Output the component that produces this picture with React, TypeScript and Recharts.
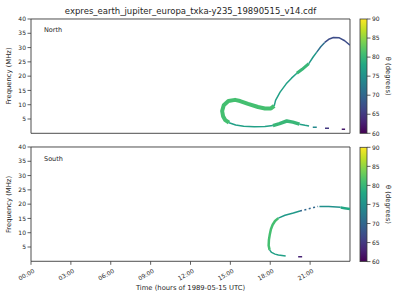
import React from 'react';
import { LineChart, Line, XAxis, YAxis, ReferenceArea } from 'recharts';

// ---------- tick values / labels ----------
const hourTicks = [0, 3, 6, 9, 12, 15, 18, 21];
const hourLabels = ['00:00', '03:00', '06:00', '09:00', '12:00', '15:00', '18:00', '21:00'];
const freqTicks = [5, 10, 15, 20, 25, 30, 35, 40];
const thetaTicks = [60, 65, 70, 75, 80, 85, 90];

// ---------- North hemisphere emission (time [h], frequency [MHz]) ----------
const northLoop = [[18.3, 9.6], [18.05, 8.7], [17.6, 8.7], [17.08, 9.2], [16.33, 10.3], [15.73, 11.3], [15.35, 11.7], [14.85, 11.3], [14.5, 9.8], [14.38, 7.8], [14.45, 6.0], [14.62, 4.6], [14.9, 3.7]];
const northBottom = [[14.9, 3.7], [15.4, 2.9], [16.0, 2.45], [16.8, 2.3], [17.6, 2.35], [18.2, 2.7]];
const northBump = [[18.2, 2.7], [18.7, 3.4], [19.24, 4.3], [19.7, 3.9], [20.2, 3.2]];
const northTail = [[20.2, 3.2], [20.62, 2.8], [20.92, 2.55]];
const northDash1 = [[21.2, 2.1], [21.5, 2.1]];
const northDash2 = [[22.12, 1.75], [22.42, 1.75]];
const northDash3 = [[23.38, 1.4], [23.63, 1.4]];
const northRise1 = [[18.3, 9.6], [18.4, 11.5], [18.74, 14.4], [19.2, 17.3], [19.6, 19.3], [20.0, 21.0]];
const northRise2 = [[20.0, 21.0], [20.4, 22.4], [20.9, 24.4]];
const northRise3 = [[20.9, 24.4], [21.24, 26.8], [21.5, 28.4]];
const northRise4 = [[21.5, 28.4], [21.8, 30.3], [22.1, 31.8]];
const northArc = [[22.1, 31.8], [22.4, 32.9], [22.75, 33.5], [23.2, 33.4], [23.6, 32.4], [24.0, 30.8]];

const northSeries = [northLoop, northBottom, northBump, northTail, northDash1, northDash2, northDash3, northRise1, northRise2, northRise3, northRise4, northArc];
const northTheta = [81, 77, 80, 77, 74, 65, 62, 77, 80, 76, 71, 67];

// ---------- South hemisphere emission ----------
const southDash = [[20.1, 1.6], [20.4, 1.6]];
const southBottom = [[19.16, 1.85], [18.61, 2.2], [18.36, 2.5], [18.1, 3.1], [17.95, 4.0]];
const southVertical = [[17.95, 4.0], [17.88, 5.5], [17.9, 7.5], [17.97, 9.5], [18.05, 11.2], [18.18, 12.8], [18.36, 14.1], [18.61, 15.1]];
const southRise = [[18.61, 15.1], [19.11, 16.1], [19.74, 16.9], [20.24, 17.6]];
const southDotted = [[20.24, 17.6], [20.75, 18.2], [21.25, 18.8], [21.6, 19.2]];
const southFlat = [[21.7, 19.2], [22.4, 19.2], [23.0, 19.0], [23.3, 18.9]];
const southEnd = [[23.3, 18.8], [23.6, 18.6], [24.0, 18.3]];

const southSeries = [southDash, southBottom, southVertical, southRise, southDotted, southFlat, southEnd];
const southTheta = [63, 77, 81, 76, 70, 75, 78];

// ---------- styles (kept apart from data) ----------
const northWidths = [4, 1.5, 3.5, 1.5, 1.5, 1.5, 1.5, 1.5, 3, 1.5, 1.5, 1.5];
const northDashes = ['', '', '', '', '', '', '', '', '', '', '', ''];
const southWidths = [1.5, 1.5, 2.5, 1.5, 1.5, 1.5, 2.5];
const southDashes = ['', '', '', '', '2 2.5', '', ''];

const VIRIDIS = ['#440154', '#482475', '#414487', '#355f8d', '#2a788e', '#21918c', '#22a884', '#44bf70', '#7ad151', '#bddf26', '#fde725'];

function hexToRgb(h: string) {
  return [parseInt(h.slice(1, 3), 16), parseInt(h.slice(3, 5), 16), parseInt(h.slice(5, 7), 16)];
}
function viridis(theta: number) {
  let u = (theta - 60) / 30;
  u = Math.max(0, Math.min(1, u));
  const p = u * 10;
  const i = Math.min(9, Math.floor(p));
  const fr = p - i;
  const a = hexToRgb(VIRIDIS[i]);
  const b = hexToRgb(VIRIDIS[i + 1]);
  const c = a.map((v, k) => Math.round(v + (b[k] - v) * fr));
  return `rgb(${c[0]},${c[1]},${c[2]})`;
}

const AX = '#3a3a3a';
const TXT = '#262626';
const FONT = 'DejaVu Sans, sans-serif';

const toRows = (pts: number[][]) => pts.map(([t, f]) => ({ t, f }));

function HourTick(props: any) {
  const { x, y, payload } = props;
  const idx = hourTicks.indexOf(payload.value);
  return (
    <g transform={`translate(${x + 1.5},${y + 1})`}>
      <text x={0} y={0} dy={5} textAnchor="end" transform="rotate(-30)" fontSize={6} fill={TXT} fontFamily={FONT}>
        {idx >= 0 ? hourLabels[idx] : ''}
      </text>
    </g>
  );
}

function Panel({ series, thetas, widths, dashes, height, xHeight, showLabels }: any) {
  return (
    <LineChart width={400} height={height} margin={{ top: 19, right: 50, bottom: 0, left: 0 }}>
      <XAxis
        type="number"
        dataKey="t"
        domain={[0, 24]}
        ticks={hourTicks}
        allowDataOverflow
        height={xHeight}
        tickSize={3.5}
        tickLine={{ stroke: AX, strokeWidth: 0.8 }}
        axisLine={false}
        tick={showLabels ? <HourTick /> : false}
        tickFormatter={showLabels ? undefined : () => ''}
        interval={0}
      />
      <YAxis
        type="number"
        dataKey="f"
        domain={[0, 40]}
        ticks={freqTicks}
        allowDataOverflow
        width={31}
        tickSize={3.5}
        tickMargin={1.5}
        tickLine={{ stroke: AX, strokeWidth: 0.8 }}
        axisLine={false}
        tick={{ fontSize: 6, fill: TXT, fontFamily: FONT }}
        interval={0}
      />
      {series.map((pts: number[][], i: number) => (
        <Line
          key={i}
          data={toRows(pts)}
          dataKey="f"
          type="linear"
          stroke={viridis(thetas[i])}
          strokeWidth={widths[i]}
          strokeDasharray={dashes[i] || undefined}
          strokeLinecap="butt"
          strokeLinejoin="round"
          dot={false}
          activeDot={false}
          isAnimationActive={false}
        />
      ))}
      <ReferenceArea x1={0} x2={24} y1={0} y2={40} fill="none" stroke={AX} strokeWidth={0.9} ifOverflow="visible" />
    </LineChart>
  );
}

function ColorBar({ top, bottom, id }: { top: number; bottom: number; id: string }) {
  const x0 = 360;
  const w = 7;
  const h = bottom - top;
  const stops = VIRIDIS.map((c, i) => (
    <stop key={i} offset={`${100 - i * 10}%`} stopColor={c} />
  ));
  return (
    <g>
      <defs>
        <linearGradient id={id} x1="0" y1="0" x2="0" y2="1">
          {stops.slice().reverse()}
        </linearGradient>
      </defs>
      <rect x={x0} y={top} width={w} height={h} fill={`url(#${id})`} stroke={AX} strokeWidth={0.8} />
      {thetaTicks.map((v) => {
        const yy = bottom - ((v - 60) / 30) * h;
        return (
          <g key={v}>
            <line x1={x0 + w} x2={x0 + w + 3.5} y1={yy} y2={yy} stroke={AX} strokeWidth={0.8} />
            <text x={x0 + w + 5} y={yy} dy={2.2} fontSize={6} fill={TXT} fontFamily={FONT}>{v}</text>
          </g>
        );
      })}
      <text transform={`translate(386,${(top + bottom) / 2}) rotate(90)`} textAnchor="middle" fontSize={6.8} fill={TXT} fontFamily={FONT}>
        θ (degrees)
      </text>
    </g>
  );
}

export default function App() {
  return (
    <div style={{ position: 'absolute', left: 0, top: 0, width: 400, height: 300, background: '#fff', overflow: 'hidden' }}>
      <div style={{ position: 'absolute', left: 0, top: 0 }}>
        <Panel series={northSeries} thetas={northTheta} widths={northWidths} dashes={northDashes} height={140.3} xHeight={7} showLabels={false} />
      </div>
      <div style={{ position: 'absolute', left: 0, top: 128.3 }}>
        <Panel series={southSeries} thetas={southTheta} widths={southWidths} dashes={southDashes} height={171.7} xHeight={38.4} showLabels={true} />
      </div>
      <svg width={400} height={300} style={{ position: 'absolute', left: 0, top: 0, pointerEvents: 'none' }}>
        <text x={190.5} y={14} textAnchor="middle" fontSize={8.5} fill={TXT} fontFamily={FONT}>
          expres_earth_jupiter_europa_txka-y235_19890515_v14.cdf
        </text>
        <text x={44} y={31.5} fontSize={6.5} fill={TXT} fontFamily={FONT}>North</text>
        <text x={44} y={161} fontSize={6.5} fill={TXT} fontFamily={FONT}>South</text>
        <text transform="translate(10.5,76) rotate(-90)" textAnchor="middle" fontSize={6.8} fill={TXT} fontFamily={FONT}>Frequency (MHz)</text>
        <text transform="translate(10.5,204.5) rotate(-90)" textAnchor="middle" fontSize={6.8} fill={TXT} fontFamily={FONT}>Frequency (MHz)</text>
        <text x={190.5} y={289.5} textAnchor="middle" fontSize={6.8} fill={TXT} fontFamily={FONT}>Time (hours of 1989-05-15 UTC)</text>
        <ColorBar top={19} bottom={133.3} id="cbN" />
        <ColorBar top={147.3} bottom={261.6} id="cbS" />
      </svg>
    </div>
  );
}
